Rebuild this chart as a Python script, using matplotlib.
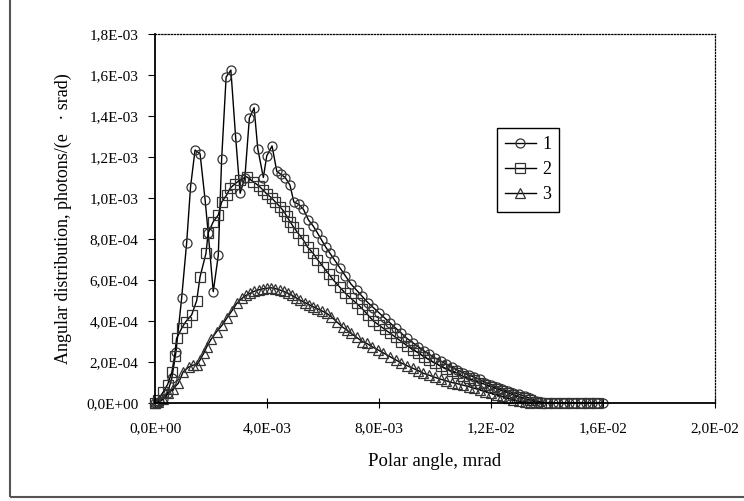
import matplotlib
matplotlib.use('Agg')
import matplotlib.pyplot as plt
import numpy as np
from matplotlib.patches import Rectangle
from matplotlib.ticker import FuncFormatter, MultipleLocator

plt.rcParams['font.family'] = ['Liberation Serif', 'DejaVu Serif']

# values, both axes in units of 1e-3
SCALE = 1e-3
angle1 = [0.0, 0.15, 0.3, 0.45, 0.6, 0.75, 0.95, 1.13, 1.27, 1.43,
          1.61, 1.79, 1.9, 2.08, 2.26, 2.38, 2.54, 2.71, 2.88, 3.04,
          3.21, 3.37, 3.54, 3.67, 3.87, 3.99, 4.18, 4.35, 4.5, 4.65,
          4.82, 4.96, 5.13, 5.3, 5.48, 5.65, 5.8, 5.95, 6.1, 6.25,
          6.4, 6.6, 6.8, 7.0, 7.2, 7.4, 7.6, 7.8, 8.0, 8.2,
          8.4, 8.6, 8.8, 9.0, 9.2, 9.4, 9.6, 9.8, 10.0, 10.2,
          10.4, 10.6, 10.8, 11.0, 11.2, 11.4, 11.6, 11.8, 12.0, 12.2,
          12.4, 12.6, 12.8, 13.0, 13.2, 13.4, 13.6, 13.8, 14.0, 14.2,
          14.4, 14.6, 14.8, 15.0, 15.2, 15.4, 15.6, 15.8, 16.0]
dist1 = [0.0, 0.005, 0.02, 0.05, 0.12, 0.25, 0.51, 0.78, 1.055, 1.234,
         1.215, 0.99, 0.83, 0.543, 0.72, 1.19, 1.59, 1.624, 1.296, 1.023,
         1.10, 1.39, 1.44, 1.24, 1.10, 1.205, 1.254, 1.13, 1.115, 1.10,
         1.063, 0.98, 0.97, 0.945, 0.893, 0.863, 0.83, 0.795, 0.76, 0.73,
         0.70, 0.66, 0.62, 0.58, 0.55, 0.52, 0.49, 0.465, 0.44, 0.415,
         0.39, 0.365, 0.34, 0.315, 0.295, 0.275, 0.255, 0.237, 0.22, 0.205,
         0.19, 0.175, 0.16, 0.148, 0.137, 0.126, 0.115, 0.10, 0.09, 0.078,
         0.068, 0.058, 0.05, 0.042, 0.033, 0.022, 0.012, 0.006, 0.002, 0.0,
         0.0, 0.0, 0.0, 0.0, 0.0, 0.0, 0.0, 0.0, 0.0]

angle2 = [0.0, 0.1, 0.3, 0.45, 0.6, 0.7, 0.77, 0.95, 1.1, 1.31,
          1.49, 1.61, 1.82, 1.9, 2.08, 2.26, 2.38, 2.56, 2.68, 2.86,
          3.04, 3.27, 3.5, 3.7, 3.85, 3.99, 4.17, 4.3, 4.46, 4.6,
          4.7, 4.82, 4.94, 5.1, 5.3, 5.45, 5.65, 5.8, 6.0, 6.2,
          6.37, 6.6, 6.8, 7.0, 7.2, 7.4, 7.6, 7.8, 8.0, 8.2,
          8.4, 8.6, 8.8, 9.0, 9.2, 9.4, 9.6, 9.8, 10.0, 10.2,
          10.4, 10.6, 10.8, 11.0, 11.2, 11.4, 11.6, 11.8, 12.0, 12.2,
          12.4, 12.6, 12.8, 13.0, 13.2, 13.4, 13.6, 13.8, 14.0, 14.3,
          14.6, 14.9, 15.2, 15.5, 15.8]
dist2 = [0.0, 0.015, 0.055, 0.09, 0.15, 0.23, 0.315, 0.364, 0.397, 0.43,
         0.50, 0.616, 0.73, 0.83, 0.884, 0.917, 0.98, 1.015, 1.047, 1.07,
         1.088, 1.104, 1.08, 1.06, 1.04, 1.02, 1.0, 0.98, 0.958, 0.935,
         0.912, 0.885, 0.86, 0.83, 0.795, 0.76, 0.73, 0.70, 0.665, 0.63,
         0.60, 0.565, 0.535, 0.51, 0.486, 0.46, 0.43, 0.40, 0.38, 0.36,
         0.34, 0.32, 0.30, 0.28, 0.26, 0.245, 0.226, 0.21, 0.195, 0.18,
         0.168, 0.155, 0.145, 0.13, 0.12, 0.11, 0.10, 0.09, 0.08, 0.07,
         0.06, 0.05, 0.04, 0.03, 0.022, 0.014, 0.007, 0.002, 0.0, 0.0,
         0.0, 0.0, 0.0, 0.0, 0.0]

angle3 = [0.0, 0.12, 0.3, 0.48, 0.65, 0.83, 1.01, 1.2, 1.37, 1.5,
          1.61, 1.75, 1.85, 2.0, 2.2, 2.4, 2.56, 2.75, 2.92, 3.1,
          3.25, 3.39, 3.55, 3.7, 3.85, 3.99, 4.15, 4.3, 4.46, 4.6,
          4.75, 4.9, 5.05, 5.18, 5.35, 5.5, 5.65, 5.8, 5.95, 6.13,
          6.3, 6.5, 6.7, 6.85, 7.0, 7.2, 7.4, 7.56, 7.75, 7.95,
          8.15, 8.39, 8.6, 8.8, 9.0, 9.2, 9.4, 9.58, 9.8, 10.0,
          10.2, 10.4, 10.6, 10.8, 11.0, 11.2, 11.4, 11.6, 11.8, 12.0,
          12.2, 12.4, 12.6, 12.8, 13.0, 13.2, 13.4]
dist3 = [0.0, 0.006, 0.02, 0.047, 0.07, 0.096, 0.153, 0.175, 0.185, 0.187,
         0.21, 0.245, 0.275, 0.31, 0.348, 0.38, 0.413, 0.45, 0.486, 0.51,
         0.525, 0.535, 0.545, 0.552, 0.557, 0.56, 0.562, 0.558, 0.551, 0.545,
         0.535, 0.525, 0.512, 0.502, 0.49, 0.48, 0.47, 0.46, 0.45, 0.438,
         0.42, 0.395, 0.37, 0.356, 0.34, 0.32, 0.30, 0.291, 0.275, 0.26,
         0.245, 0.226, 0.21, 0.195, 0.182, 0.17, 0.158, 0.145, 0.135, 0.125,
         0.116, 0.108, 0.10, 0.094, 0.087, 0.08, 0.072, 0.064, 0.055, 0.047,
         0.04, 0.032, 0.024, 0.015, 0.009, 0.004, 0.0]

series = [(angle1, dist1, 'o', '1'), (angle2, dist2, 's', '2'), (angle3, dist3, '^', '3')]

fig = plt.figure(figsize=(7.44, 5.01), dpi=100)
# partial outer frame (left and bottom edges visible)
fig.patches.append(Rectangle((10 / 744, 4 / 501), 1.2, 1.2, transform=fig.transFigure,
                             fill=False, edgecolor='#555555', linewidth=1.5))
ax = fig.add_axes([155 / 744, 1 - 403 / 501, 560 / 744, 369 / 501])

for x, y, marker, label in series:
    ax.plot(np.array(x) * SCALE, np.array(y) * SCALE, color='black', linewidth=1.0,
            marker=marker, markersize=6.5, markerfacecolor='none', markeredgecolor='#333333',
            markeredgewidth=0.9, label=label, clip_on=False)

ax.set_xlim(0, 0.02)
ax.set_ylim(0, 0.0018)
ax.xaxis.set_major_locator(MultipleLocator(0.004))
ax.yaxis.set_major_locator(MultipleLocator(0.0002))
fmt = FuncFormatter(lambda v, pos: f'{v:.1E}'.replace('.', ','))
ax.xaxis.set_major_formatter(fmt)
ax.yaxis.set_major_formatter(fmt)
ax.tick_params(axis='x', direction='inout', length=7, width=0.8, pad=10, labelsize=11)
ax.tick_params(axis='y', direction='out', length=5, width=0.8, pad=7, labelsize=11)

for side in ['left', 'bottom']:
    ax.spines[side].set_linewidth(1.3)
for side in ['top', 'right']:
    ax.spines[side].set_linestyle((0, (1, 1.5)))
    ax.spines[side].set_linewidth(0.9)

ax.set_xlabel('Polar angle, mrad', fontsize=13.5, labelpad=13)
ax.set_ylabel('Angular distribution, photons/(e   \u00b7 srad)', fontsize=13, labelpad=10)

leg = ax.legend(loc='upper left', bbox_to_anchor=((497 - 155) / 560, (403 - 128) / 369),
                borderaxespad=0, fancybox=False, framealpha=1, edgecolor='black',
                fontsize=13, handlelength=1.7, labelspacing=0.45, borderpad=0.45,
                handletextpad=0.35)
leg.get_frame().set_linewidth(1.0)

fig.savefig('out.png', dpi=100)
